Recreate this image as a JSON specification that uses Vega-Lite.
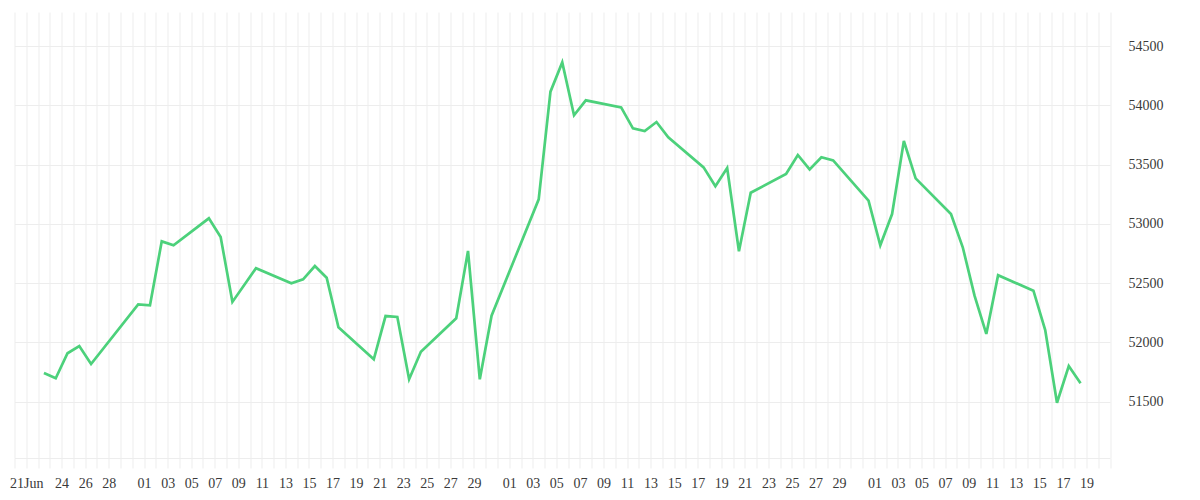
{
  "$schema": "https://vega.github.io/schema/vega-lite/v6.json",
  "width": 1095.5,
  "height": 446,
  "autosize": {"type": "none"},
  "padding": {"left": 14.5, "top": 12, "right": 90, "bottom": 42},
  "background": "white",
  "config": {
    "view": {"stroke": null},
    "axis": {"labelFont": "Liberation Serif", "labelFontSize": 14, "labelColor": "#3a3a3a"}
  },
  "data": {
    "values": [
      {"date": "2020-06-22T12:00:00Z", "value": 51743},
      {"date": "2020-06-23T12:00:00Z", "value": 51698},
      {"date": "2020-06-24T12:00:00Z", "value": 51909},
      {"date": "2020-06-25T12:00:00Z", "value": 51970},
      {"date": "2020-06-26T12:00:00Z", "value": 51819},
      {"date": "2020-06-30T12:00:00Z", "value": 52322},
      {"date": "2020-07-01T12:00:00Z", "value": 52314},
      {"date": "2020-07-02T12:00:00Z", "value": 52853},
      {"date": "2020-07-03T12:00:00Z", "value": 52820},
      {"date": "2020-07-06T12:00:00Z", "value": 53047},
      {"date": "2020-07-07T12:00:00Z", "value": 52890},
      {"date": "2020-07-08T12:00:00Z", "value": 52342},
      {"date": "2020-07-10T12:00:00Z", "value": 52626},
      {"date": "2020-07-13T12:00:00Z", "value": 52499},
      {"date": "2020-07-14T12:00:00Z", "value": 52533},
      {"date": "2020-07-15T12:00:00Z", "value": 52645},
      {"date": "2020-07-16T12:00:00Z", "value": 52546},
      {"date": "2020-07-17T12:00:00Z", "value": 52128},
      {"date": "2020-07-20T12:00:00Z", "value": 51858},
      {"date": "2020-07-21T12:00:00Z", "value": 52223},
      {"date": "2020-07-22T12:00:00Z", "value": 52215},
      {"date": "2020-07-23T12:00:00Z", "value": 51690},
      {"date": "2020-07-24T12:00:00Z", "value": 51922},
      {"date": "2020-07-27T12:00:00Z", "value": 52204},
      {"date": "2020-07-28T12:00:00Z", "value": 52772},
      {"date": "2020-07-29T12:00:00Z", "value": 51690},
      {"date": "2020-07-30T12:00:00Z", "value": 52226},
      {"date": "2020-08-03T12:00:00Z", "value": 53207},
      {"date": "2020-08-04T12:00:00Z", "value": 54115},
      {"date": "2020-08-05T12:00:00Z", "value": 54362},
      {"date": "2020-08-06T12:00:00Z", "value": 53916},
      {"date": "2020-08-07T12:00:00Z", "value": 54042},
      {"date": "2020-08-10T12:00:00Z", "value": 53983},
      {"date": "2020-08-11T12:00:00Z", "value": 53806},
      {"date": "2020-08-12T12:00:00Z", "value": 53783},
      {"date": "2020-08-13T12:00:00Z", "value": 53859},
      {"date": "2020-08-14T12:00:00Z", "value": 53730},
      {"date": "2020-08-17T12:00:00Z", "value": 53477},
      {"date": "2020-08-18T12:00:00Z", "value": 53317},
      {"date": "2020-08-19T12:00:00Z", "value": 53471},
      {"date": "2020-08-20T12:00:00Z", "value": 52769},
      {"date": "2020-08-21T12:00:00Z", "value": 53263},
      {"date": "2020-08-24T12:00:00Z", "value": 53421},
      {"date": "2020-08-25T12:00:00Z", "value": 53581},
      {"date": "2020-08-26T12:00:00Z", "value": 53460},
      {"date": "2020-08-27T12:00:00Z", "value": 53562},
      {"date": "2020-08-28T12:00:00Z", "value": 53536},
      {"date": "2020-08-31T12:00:00Z", "value": 53196},
      {"date": "2020-09-01T12:00:00Z", "value": 52820},
      {"date": "2020-09-02T12:00:00Z", "value": 53083},
      {"date": "2020-09-03T12:00:00Z", "value": 53699},
      {"date": "2020-09-04T12:00:00Z", "value": 53384},
      {"date": "2020-09-07T12:00:00Z", "value": 53083},
      {"date": "2020-09-08T12:00:00Z", "value": 52803},
      {"date": "2020-09-09T12:00:00Z", "value": 52395},
      {"date": "2020-09-10T12:00:00Z", "value": 52072},
      {"date": "2020-09-11T12:00:00Z", "value": 52567},
      {"date": "2020-09-14T12:00:00Z", "value": 52437},
      {"date": "2020-09-15T12:00:00Z", "value": 52105},
      {"date": "2020-09-16T12:00:00Z", "value": 51492},
      {"date": "2020-09-17T12:00:00Z", "value": 51802},
      {"date": "2020-09-18T12:00:00Z", "value": 51656}
    ]
  },
  "mark": {"type": "line", "color": "#4cd17b", "strokeWidth": 2.7, "strokeJoin": "miter"},
  "encoding": {
    "x": {
      "field": "date",
      "type": "temporal",
      "title": null,
      "scale": {
        "type": "utc",
        "domain": [
          {"year": 2020, "month": "jun", "date": 20, "utc": true},
          {"year": 2020, "month": "sep", "date": 21, "utc": true}
        ],
        "nice": false
      },
      "axis": {
        "tickCount": {"interval": "day", "step": 1},
        "labelExpr": "utcmonth(datum.value) == 5 ? (utcdate(datum.value) == 21 ? '21Jun' : ((utcdate(datum.value) >= 24 && utcdate(datum.value) <= 28 && utcdate(datum.value) % 2 == 0) ? utcFormat(datum.value, '%d') : '')) : ((utcdate(datum.value) % 2 == 1 && utcdate(datum.value) <= 29 && !(utcmonth(datum.value) == 8 && utcdate(datum.value) > 19)) ? utcFormat(datum.value, '%d') : '')",
        "labelOverlap": false,
        "labelFlush": false,
        "labelAlign": "center",
        "labelPadding": 8,
        "grid": true,
        "gridColor": "#ededed",
        "gridWidth": 1,
        "ticks": true,
        "tickColor": "#ededed",
        "tickSize": 10,
        "domain": true,
        "domainColor": "#ededed",
        "domainWidth": 1
      }
    },
    "y": {
      "field": "value",
      "type": "quantitative",
      "title": null,
      "scale": {"domain": [51026, 54787], "nice": false, "zero": false},
      "axis": {
        "orient": "right",
        "values": [51500, 52000, 52500, 53000, 53500, 54000, 54500],
        "format": "d",
        "grid": true,
        "gridColor": "#ededed",
        "gridWidth": 1,
        "ticks": false,
        "domain": false,
        "labelPadding": 18,
        "labelBaseline": "middle"
      }
    }
  }
}
